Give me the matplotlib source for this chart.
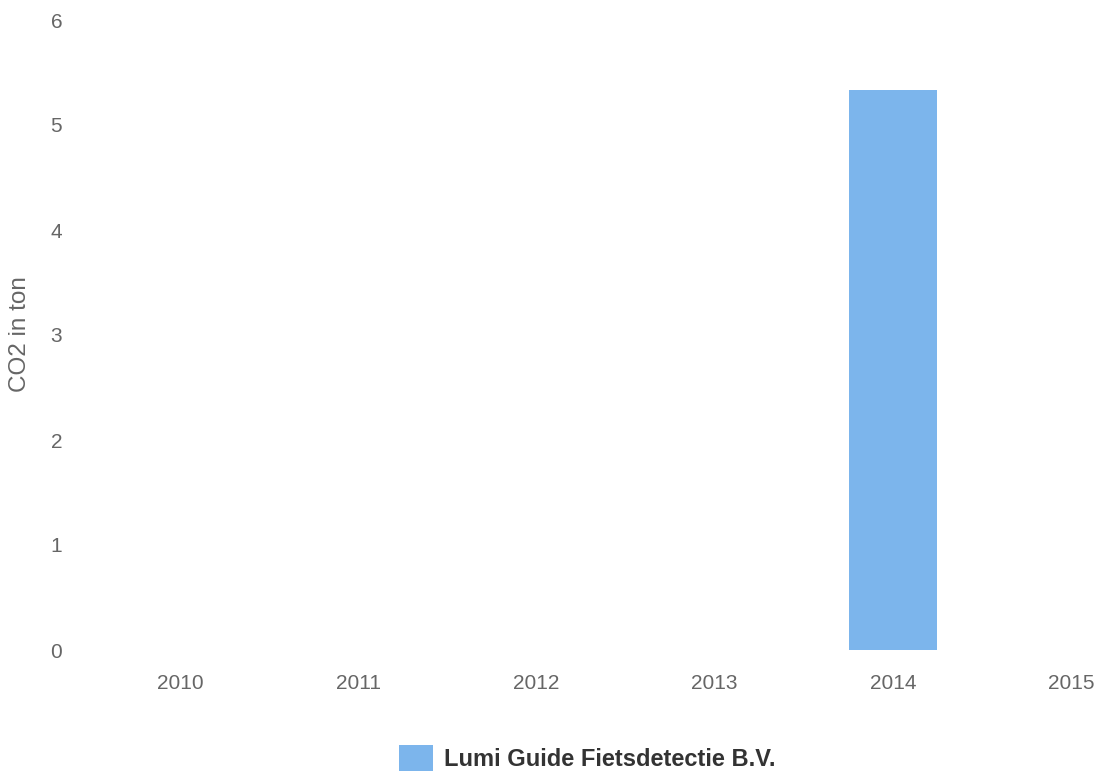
import matplotlib.pyplot as plt

years = ['2010', '2011', '2012', '2013', '2014', '2015']
co2 = [0, 0, 0, 0, 5.33, 0]
series_name = 'Lumi Guide Fietsdetectie B.V.'

plt.rcParams['font.family'] = ['Liberation Sans', 'DejaVu Sans']

fig = plt.figure(figsize=(10.99, 7.74), dpi=100)
W, H = 1099, 774
# axes placed in pixel terms: left 80, right 1099, y=0 at 650, y=6 at 20
ax = fig.add_axes([80 / W, (H - 650) / H, (W - 80) / W, (650 - 20) / H])

x = list(range(len(years)))
ax.bar(x, co2, width=0.49, color='#7cb5ec', label=series_name)

ax.set_xlim((80 - 180) / 178.25, (W - 180) / 178.25)
ax.set_ylim(0, 6)
ax.set_xticks(x)
ax.set_xticklabels(years)
ax.set_yticks(range(0, 7))

for s in ax.spines.values():
    s.set_visible(False)
ax.tick_params(axis='both', length=0, labelsize=15, labelcolor='#666666')
ax.tick_params(axis='x', pad=17)
for lab in ax.get_yticklabels():
    lab.set_horizontalalignment('center')
ax.yaxis.set_tick_params(pad=17)

fig.text(20 / W, 1 - 334 / H, 'CO2 in ton', rotation=90, ha='center', va='center',
         fontsize=17.5, color='#666666')

leg = fig.legend(loc='center', bbox_to_anchor=(587 / W, 1 - 758 / H), frameon=False,
                 prop={'weight': 'bold', 'size': 17}, handlelength=1.45, handleheight=1.35,
                 handletextpad=0.45)
for t in leg.get_texts():
    t.set_color('#333333')

fig.savefig('out.png', dpi=100)
